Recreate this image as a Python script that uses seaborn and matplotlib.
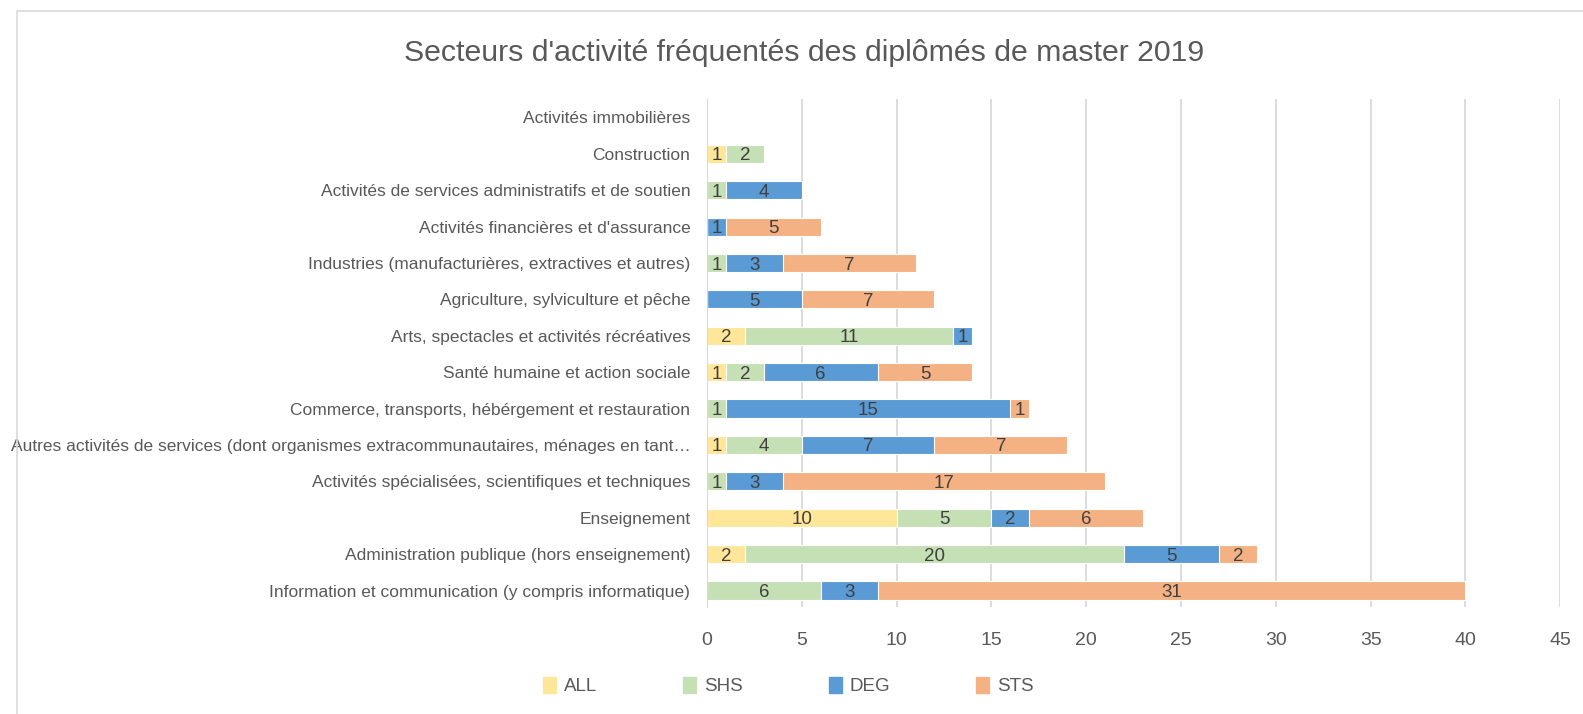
import seaborn as sns
import matplotlib.pyplot as plt
import numpy as np
import pandas as pd

# données (de haut en bas)
secteurs = [
    "Activités immobilières",
    "Construction",
    "Activités de services administratifs et de soutien",
    "Activités financières et d'assurance",
    "Industries (manufacturières, extractives et autres)",
    "Agriculture, sylviculture et pêche",
    "Arts, spectacles et activités récréatives",
    "Santé humaine et action sociale",
    "Commerce, transports, hébérgement et restauration",
    "Autres activités de services (dont organismes extracommunautaires, ménages en tant…",
    "Activités spécialisées, scientifiques et techniques",
    "Enseignement",
    "Administration publique (hors enseignement)",
    "Information et communication (y compris informatique)",
]
ALL = [0, 1, 0, 0, 0, 0, 2, 1, 0, 1, 0, 10, 2, 0]
SHS = [0, 2, 1, 0, 1, 0, 11, 2, 1, 4, 1, 5, 20, 6]
DEG = [0, 0, 4, 1, 3, 5, 1, 6, 15, 7, 3, 2, 5, 3]
STS = [0, 0, 0, 5, 7, 7, 0, 5, 1, 7, 17, 6, 2, 31]

series = ["ALL", "SHS", "DEG", "STS"]
couleurs = {"ALL": "#FFE699", "SHS": "#C5E0B4", "DEG": "#5B9BD5", "STS": "#F4B183"}

df = pd.DataFrame({"secteur": secteurs, "ALL": ALL, "SHS": SHS, "DEG": DEG, "STS": STS})
cum = df[series].cumsum(axis=1)

sns.set_style("white")
plt.rcParams["font.family"] = ["Liberation Sans", "DejaVu Sans"]
texte = "#595959"

fig = plt.figure(figsize=(15.83, 7.14), dpi=100)
ax = fig.add_axes([0.4466, 0.150, 0.539, 0.711])

# barres empilées : on trace les cumuls du plus grand au plus petit
for s in reversed(series):
    sns.barplot(x=cum[s], y=df["secteur"], orient="h", color=couleurs[s],
                width=0.5, saturation=1, edgecolor="white", linewidth=0.8, ax=ax)

# étiquettes de données
for i in range(len(df)):
    debut = 0
    for s in series:
        v = df.loc[i, s]
        if v > 0:
            ax.text(debut + v / 2, i, str(v), ha="center", va="center_baseline",
                    fontsize=13.5, color="#404040")
        debut += v

ax.set_xlim(0, 45)
ax.set_xticks(np.arange(0, 46, 5))
ax.set_ylim(len(df) - 0.55, -0.5)
ax.grid(axis="x", color="#D9D9D9", linewidth=1.3)
ax.set_axisbelow(True)
for sp in ["top", "right", "bottom"]:
    ax.spines[sp].set_visible(False)
ax.spines["left"].set_color("#D9D9D9")
ax.tick_params(axis="x", length=0, pad=18, labelsize=14, labelcolor=texte)
ax.tick_params(axis="y", length=0, pad=12, labelsize=12.5, labelcolor=texte)
ax.set_xlabel("")
ax.set_ylabel("")

fig.suptitle("Secteurs d'activité fréquentés des diplômés de master 2019",
             x=0.508, y=0.945, fontsize=21.8, color=texte)

# légende
poignees = [plt.Rectangle((0, 0), 1, 1, color=couleurs[s]) for s in series]
fig.legend(poignees, series, loc="center", bbox_to_anchor=(0.498, 0.039), ncol=4,
           frameon=False, fontsize=13.5, labelcolor=texte, handlelength=0.7,
           handleheight=0.9, handletextpad=0.4, columnspacing=4.6)

# cadre extérieur
fig.patches.append(plt.Rectangle((0.011, -0.01), 0.995, 0.995, transform=fig.transFigure,
                                 fill=False, edgecolor="#D9D9D9", linewidth=1.2))

fig.savefig("out.png", dpi=100)
